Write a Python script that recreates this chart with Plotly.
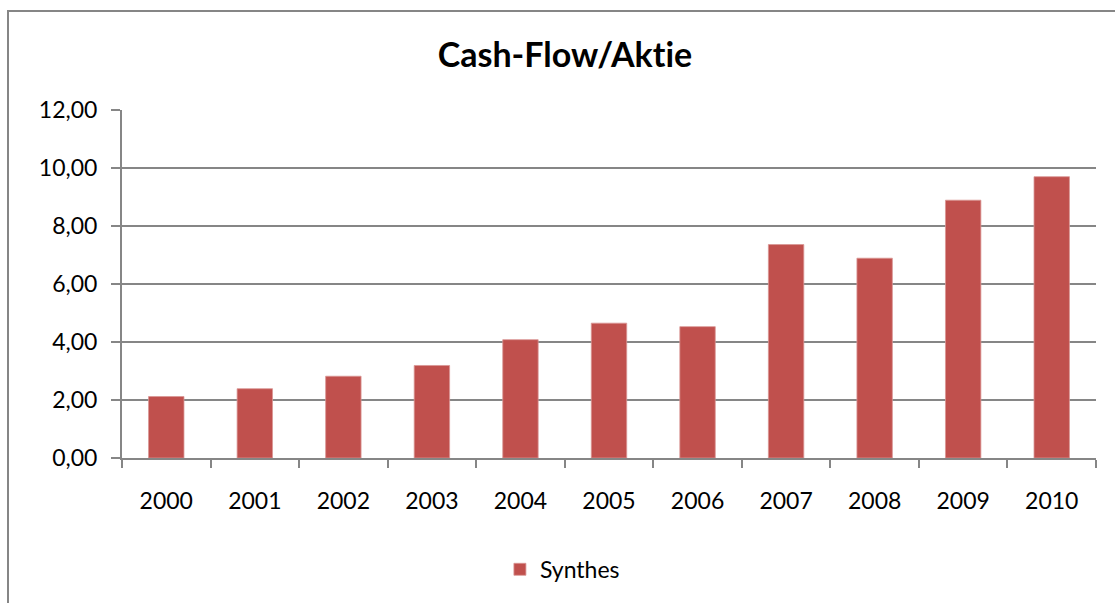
import plotly.graph_objects as go

years = ["2000", "2001", "2002", "2003", "2004", "2005", "2006", "2007", "2008", "2009", "2010"]
synthes = [2.12, 2.39, 2.82, 3.19, 4.08, 4.65, 4.53, 7.36, 6.89, 8.89, 9.70]
y_ticks = [0, 2, 4, 6, 8, 10, 12]

FONT = "Lato"
GRAY = "#868686"

fig = go.Figure()
fig.add_trace(go.Bar(
    x=years, y=synthes, name="Synthes",
    marker=dict(color="#C0504D", line=dict(color="#D99694", width=0.8)),
    showlegend=True,
))

fig.update_layout(
    width=1115, height=603,
    margin=dict(l=122, r=19, t=110, b=145),
    paper_bgcolor="white", plot_bgcolor="white",
    separators=",.",
    bargap=0.6,
    title=dict(text="<b>Cash-Flow/Akt\u200cie</b>", x=0.5067, xanchor="center",
               y=0.909, yanchor="middle",
               font=dict(family=FONT, size=34, color="black")),
    font=dict(family=FONT, size=23, color="black"),
    showlegend=True,
    legend=dict(orientation="h", x=0.388, xanchor="left", y=-0.32, yanchor="middle",
                font=dict(family=FONT, size=23, color="black")),
    xaxis=dict(
        type="category", showgrid=False, showline=True, linecolor=GRAY, linewidth=2,
        ticks="outside", tickson="boundaries", ticklen=8, tickcolor=GRAY, tickwidth=2,
        ticklabelstandoff=21,
        tickfont=dict(family=FONT, size=23, color="black"),
    ),
    yaxis=dict(
        range=[0, 12], tickvals=y_ticks, tickformat=".2f",
        showgrid=True, gridcolor=GRAY, gridwidth=1.5,
        showline=True, linecolor=GRAY, linewidth=2,
        ticks="outside", ticklen=9, tickcolor=GRAY, tickwidth=2,
        ticklabelstandoff=9, zeroline=False,
        tickfont=dict(family=FONT, size=23, color="black"),
    ),
    shapes=[dict(type="rect", xref="paper", yref="paper",
                 x0=(8 - 122) / 974, x1=1.1, y0=-0.5, y1=(458 - 11) / 348,
                 line=dict(color=GRAY, width=2), fillcolor="rgba(0,0,0,0)", layer="below")],
)

fig.write_html("out.html", config={"displayModeBar": False},
               post_script="document.body.style.margin='0';")
